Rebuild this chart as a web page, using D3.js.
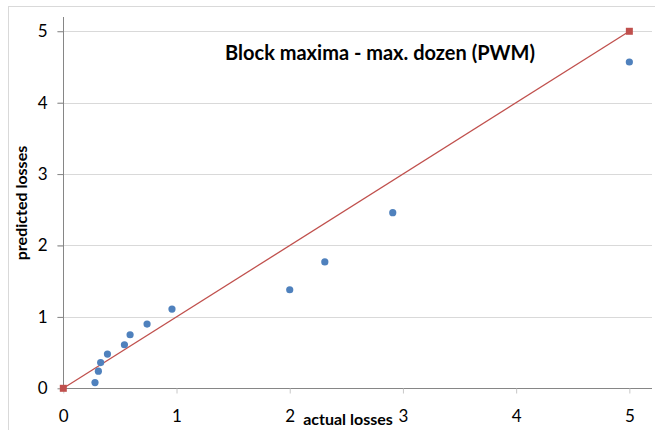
<!DOCTYPE html>
<html>
<head>
<meta charset="utf-8">
<script src="https://cdn.jsdelivr.net/npm/d3@7"></script>
<style>
    body { margin: 0; background: #fff; }
    text { font-family: Lato, "Open Sans", sans-serif; fill: #000; }
</style>
</head>
<body>
<script>
//chart data
var actual = [0.28, 0.31, 0.33, 0.39, 0.54, 0.59, 0.74, 0.96, 2.00, 2.31, 2.91, 5.00];
var predicted = [0.08, 0.24, 0.36, 0.48, 0.61, 0.75, 0.90, 1.11, 1.38, 1.77, 2.46, 4.57];
var refX = [0, 5]; //45 degree reference line
var refY = [0, 5];
var tickValues = [0, 1, 2, 3, 4, 5];
var titleText = "Block maxima - max. dozen (PWM)";
var xTitle = "actual losses";
var yTitle = "predicted losses";

var w = 655, h = 430;

window.onload = function(){
    var svg = d3.select("body")
        .append("svg")
        .attr("width", w)
        .attr("height", h);

    //chart border (runs off the right and bottom edges)
    svg.append("rect")
        .attr("x", 8.5)
        .attr("y", 6.5)
        .attr("width", 700)
        .attr("height", 500)
        .style("fill", "none")
        .style("stroke", "#d9d9d9");

    var x = d3.scaleLinear().domain([0, 5.2]).range([63.3, 652]);
    var y = d3.scaleLinear().domain([0, 5.2]).range([388.3, 17]);

    //horizontal gridlines, with the little tick to the left of the axis
    svg.selectAll(".grid")
        .data(tickValues.slice(1))
        .enter()
        .append("line")
        .attr("class", "grid")
        .attr("x1", x(0) - 6)
        .attr("x2", x(5.2))
        .attr("y1", function(d){ return Math.round(y(d)) + 0.5; })
        .attr("y2", function(d){ return Math.round(y(d)) + 0.5; })
        .style("stroke", "#d9d9d9");

    //y axis
    var yAxis = d3.axisLeft(y)
        .tickValues(tickValues)
        .tickSize(6)
        .tickPadding(10)
        .tickFormat(d3.format("d"));
    var gy = svg.append("g")
        .attr("transform", "translate(" + (Math.round(x(0)) + 0.5) + ",0)")
        .call(yAxis);
    gy.select(".domain").attr("d", "M0," + y(5.2) + "V" + y(0)).style("stroke", "#868686");
    gy.selectAll(".tick line").style("stroke", "#868686");
    gy.selectAll(".tick text").style("font-size", "17px").style("font-family", "Lato, sans-serif");

    //x axis
    var xAxis = d3.axisBottom(x)
        .tickValues(tickValues)
        .tickSize(5)
        .tickPadding(16)
        .tickFormat(d3.format("d"));
    var gx = svg.append("g")
        .attr("transform", "translate(0," + (Math.round(y(0)) + 0.5) + ")")
        .call(xAxis);
    gx.select(".domain").attr("d", "M" + x(0) + ",0H" + x(5.2)).style("stroke", "#868686");
    gx.selectAll(".tick line").style("stroke", "#c8c8c8");
    gx.selectAll(".tick text").style("font-size", "17px").style("font-family", "Lato, sans-serif");

    //reference line
    var line = d3.line()
        .x(function(d){ return x(d[0]); })
        .y(function(d){ return y(d[1]); });
    var refPts = d3.zip(refX, refY);
    svg.append("path")
        .datum(refPts)
        .attr("d", line)
        .style("fill", "none")
        .style("stroke", "#C0504D")
        .style("stroke-width", 1.3);
    svg.selectAll(".refMark")
        .data(refPts)
        .enter()
        .append("rect")
        .attr("class", "refMark")
        .attr("x", function(d){ return x(d[0]) - 3.5; })
        .attr("y", function(d){ return y(d[1]) - 3.5; })
        .attr("width", 7)
        .attr("height", 7)
        .style("fill", "#C0504D");

    //scatter points
    svg.selectAll(".dots")
        .data(d3.zip(actual, predicted))
        .enter()
        .append("circle")
        .attr("class", "dots")
        .attr("cx", function(d){ return x(d[0]); })
        .attr("cy", function(d){ return y(d[1]); })
        .attr("r", 3.6)
        .style("fill", "#4F81BD");

    //titles
    svg.append("text")
        .attr("x", 380)
        .attr("y", 60)
        .attr("text-anchor", "middle")
        .style("font-size", "20px")
        .style("font-weight", "bold")
        .text(titleText);
    svg.append("text")
        .attr("x", 348)
        .attr("y", 425)
        .attr("text-anchor", "middle")
        .style("font-size", "16px")
        .style("font-weight", "bold")
        .text(xTitle);
    svg.append("text")
        .attr("transform", "translate(27,203) rotate(-90)")
        .attr("text-anchor", "middle")
        .style("font-size", "16px")
        .style("font-weight", "bold")
        .text(yTitle);
};
</script>
</body>
</html>
